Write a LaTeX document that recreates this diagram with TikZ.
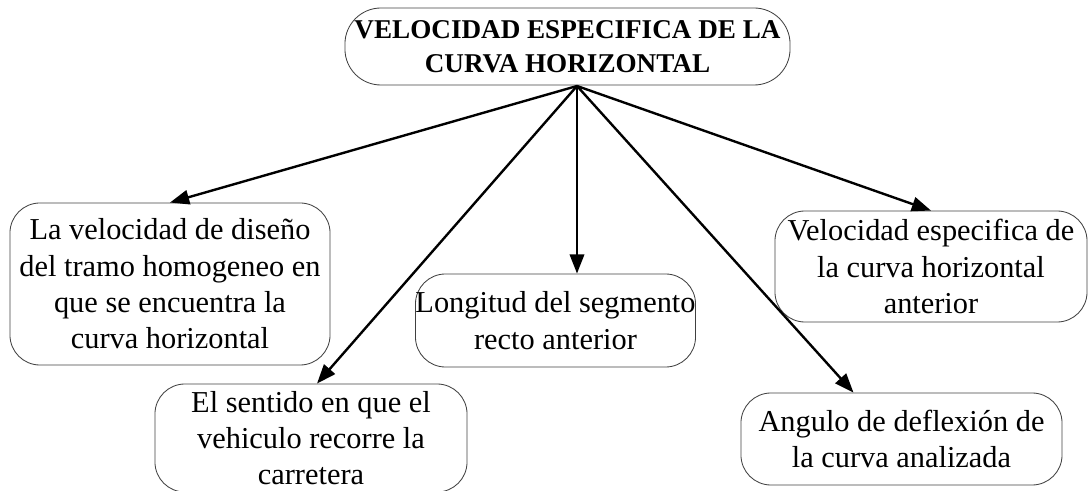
\documentclass[tikz,border=0pt]{standalone}
\usepackage{fontspec}
\setmainfont{Liberation Serif}
\usetikzlibrary{arrows.meta, positioning}

\begin{document}
\begin{tikzpicture}[x=0.025cm, y=-0.025cm,
  box/.style={draw=black!75, line width=0.6pt, rounded corners=0.75cm, align=center, inner sep=0pt, font=\fontsize{21.6}{25.8}\selectfont},
  link/.style={line width=1.7pt, -{Triangle[length=0.48cm, width=0.36cm]}}]
  % page frame
  \useasboundingbox (0,0) rectangle (1088,491);
  \clip (0,0) rectangle (1088,491);

  % main concept
  \node[box, rounded corners=0.9cm, minimum width=11.125cm, minimum height=1.925cm, font=\bfseries\fontsize{19.3}{24.2}\selectfont] (vel) at (567.5,46.5) {VELOCIDAD ESPECIFICA DE LA\\CURVA HORIZONTAL};
  \coordinate (hub) at (577,86);

  % factors
  \node[box, minimum width=8cm, minimum height=4.05cm] (diseno) at (170,284) {La velocidad de diseño\\del tramo homogeneo en\\que se encuentra la\\curva horizontal};
  \node[box, minimum width=7.8cm, minimum height=2.7cm] (sentido) at (311,438) {El sentido en que el\\vehiculo recorre la\\carretera};
  \node[box, minimum width=6.875cm, minimum height=2.325cm] (longitud) at (555.5,320.5) {Longitud del segmento\\recto anterior};
  \node[box, minimum width=7.8cm, minimum height=2.775cm] (anterior) at (931,266.5) {Velocidad especifica de\\la curva horizontal\\anterior};
  \node[box, minimum width=8.025cm, minimum height=2.3cm] (angulo) at (901.5,439) {Angulo de deflexión de\\la curva analizada};

  % arrows
  \draw[link] (hub) -- (diseno.north);
  \draw[link] (hub) -- ([xshift=0.15cm]sentido.north);
  \draw[link] (hub) -- (hub |- longitud.north);
  \draw[link] (hub) -- (anterior.north);
  \draw[link] (hub) -- ([xshift=-1.2cm]angulo.north);
\end{tikzpicture}
\end{document}
